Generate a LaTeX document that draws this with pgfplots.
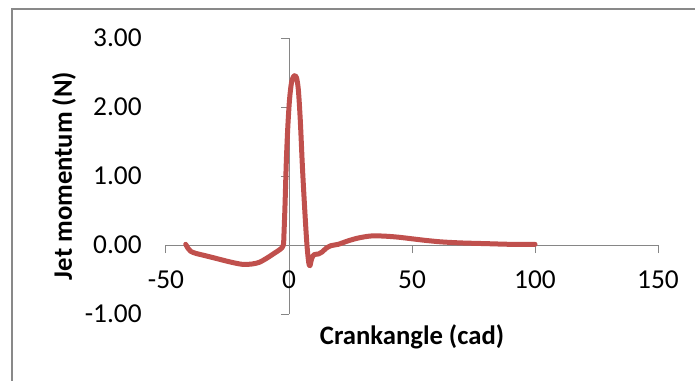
\documentclass[border=0pt]{standalone}
\usepackage{pgfplots}
\pgfplotsset{compat=1.18}
\usepackage{fontspec}
\setmainfont{Carlito}
\definecolor{exred}{HTML}{C0504D}
\definecolor{axgray}{HTML}{868686}
\definecolor{framegray}{HTML}{898989}
\begin{document}
\begin{tikzpicture}
\path[use as bounding box] (-124.5pt,-49.5pt) rectangle (396.75pt,235.5pt);
\draw[framegray, line width=0.9pt] (-115.5pt,-60pt) -- (-115.5pt,228.75pt) -- (410pt,228.75pt);
\begin{axis}[
  at={(0pt,0pt)}, anchor=south west,
  scale only axis, width=369pt, height=207pt,
  xmin=-50, xmax=150, ymin=-1, ymax=3,
  axis lines=middle,
  hide obscured x ticks=false, hide obscured y ticks=false,
  axis line style={-, draw=axgray, line width=0.75pt},
  xtick={-50,0,50,100,150}, ytick={-1,0,1,2,3},
  tick style={draw=axgray, line width=0.75pt},
  tick align=outside, major tick length=6pt,
  /pgf/number format/assume math mode=true,
  ticklabel style={font=\fontsize{20.5}{24}\selectfont},
  yticklabel style={/pgf/number format/fixed, /pgf/number format/fixed zerofill, /pgf/number format/precision=2, anchor=east, xshift=-101pt},
  xticklabel style={anchor=north, yshift=-10pt},
  clip=false,
]
\addplot[exred, line width=3.75pt, line join=round, line cap=round, smooth, tension=0.5] coordinates {
(-42,0.01) (-41,-0.05) (-40,-0.09) (-38,-0.12) (-34,-0.155) (-29,-0.20) (-24,-0.245) (-19,-0.28) (-15,-0.275) (-12,-0.25) (-9,-0.19) (-6,-0.12) (-3.5,-0.06) (-2.3,0.0) (-2,0.2) (-1.6,0.6) (-1.1,1.2) (-0.5,1.7) (0.2,2.1) (1,2.35) (2,2.45) (3,2.43) (3.8,2.25) (4.6,1.8) (5.5,1.1) (6.5,0.45) (7.3,0.0) (8,-0.25) (8.5,-0.30) (9.2,-0.2) (10.2,-0.14) (12,-0.13) (13.5,-0.1) (15,-0.05) (17,-0.01) (20,0.01) (24,0.06) (28,0.10) (33,0.13) (38,0.13) (44,0.115) (50,0.09) (56,0.065) (62,0.045) (70,0.03) (80,0.02) (90,0.01) (100,0.01)
};
\end{axis}
\node[font=\bfseries\fontsize{20}{24}\selectfont] at (184.5pt,-17.25pt) {Crankangle (cad)};
\node[font=\bfseries\fontsize{20}{24}\selectfont, rotate=90] at (-76.5pt,103.5pt) {Jet momentum (N)};
\end{tikzpicture}
\end{document}
